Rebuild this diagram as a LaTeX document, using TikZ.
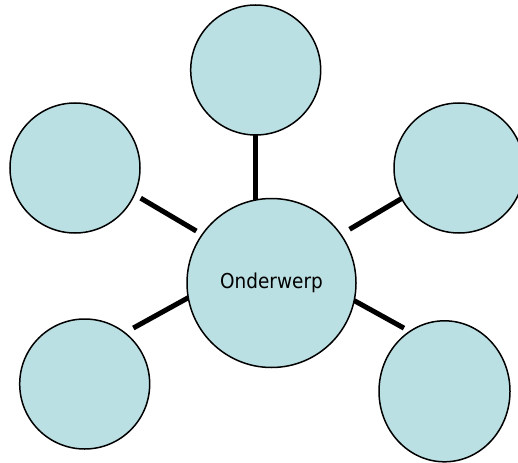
\documentclass[tikz,border=0pt]{standalone}
\usepackage{fontspec}
\newfontfamily\labelfont{DejaVu Sans Condensed}
\usetikzlibrary{shapes.geometric,backgrounds}
\definecolor{bubblefill}{RGB}{187,224,227}
\begin{document}
\begin{tikzpicture}[x=1pt,y=-1pt,
  bubble/.style={circle,draw=black,line width=1.5pt,fill=bubblefill,inner sep=0pt,outer sep=0pt,minimum size=130pt},
  link/.style={draw=black,line width=5pt}]
\useasboundingbox (0,0) rectangle (518,462);
\node[bubble,minimum size=169pt,font=\labelfont\fontsize{20.5}{24}\selectfont] (c) at (271.5,283) {Onderwerp};
\node[bubble] (top) at (255.7,70) {};
\node[bubble] (lt) at (75,168) {};
\node[bubble] (rt) at (459,168) {};
\node[bubble] (bl) at (84.7,384) {};
\node[bubble,ellipse,minimum width=131pt,minimum height=141pt] (br) at (444.5,391.3) {};
\begin{scope}[on background layer]
\draw[link] (top) -- (top |- c);
\draw[link,shorten <=7.3pt,shorten >=6.9pt] (lt.-24.4) -- (c.145.4);
\draw[link,shorten >=10.3pt] (rt.208.1) -- (c.35.8);
\draw[link,shorten <=9.85pt] (bl.52.3) -- (c.190.4);
\draw[link,shorten >=6.8pt] (c.-12.2) -- (br.120.7);
\end{scope}
\end{tikzpicture}
\end{document}
